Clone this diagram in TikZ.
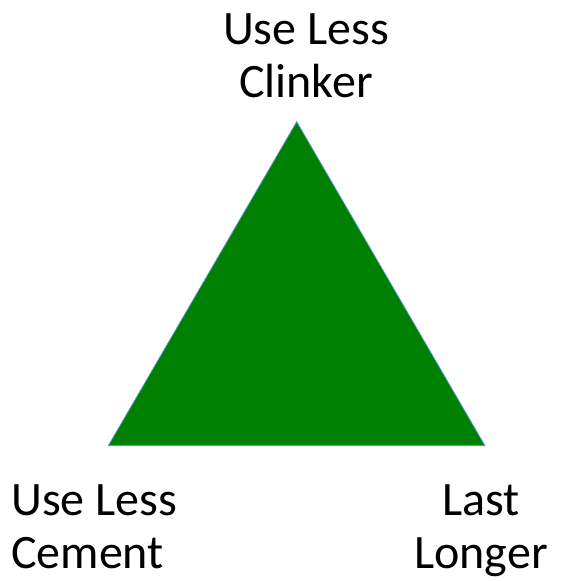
\documentclass[tikz,border=0pt]{standalone}
\usepackage{fontspec}
\setmainfont{Carlito}
\definecolor{trifill}{RGB}{0,128,0}
\definecolor{triedge}{RGB}{91,155,213}
\begin{document}
\begin{tikzpicture}[x=1pt,y=1pt,
  lbl/.style={inner sep=0pt, font=\fontsize{48}{53}\selectfont}]
\useasboundingbox (0,0) rectangle (575,581);
\coordinate (apex) at (296.7,459.3);
\coordinate (bl) at (108.3,135.3);
\coordinate (br) at (485,135.3);
\filldraw[fill=trifill, draw=triedge, line width=0.75pt] (apex) -- (bl) -- (br) -- cycle;
\node[lbl, align=center, anchor=north] (top) at (306,567) {Use Less\\Clinker};
\node[lbl, align=left, anchor=north west] (left) at (11,96) {Use Less\\Cement};
\node[lbl, align=center, anchor=north] (right) at (481,96) {Last\\Longer};
\end{tikzpicture}
\end{document}
